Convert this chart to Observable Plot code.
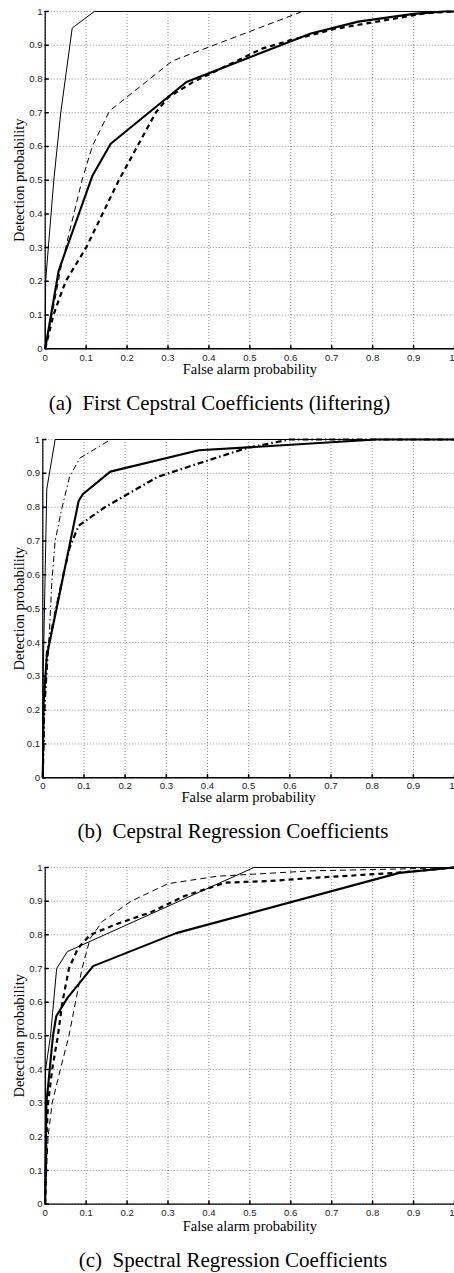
<!DOCTYPE html>
<html><head><meta charset="utf-8">
<script src="https://cdn.jsdelivr.net/npm/d3@7"></script>
<script src="https://cdn.jsdelivr.net/npm/@observablehq/plot@0.6"></script>
<style>
html,body{margin:0;padding:0;background:#fff;}
#wrap{position:relative;width:454px;height:1273px;overflow:hidden;background:#fff;}
#wrap svg{position:absolute;left:0;overflow:visible;}
</style></head><body><div id="wrap"></div>
<script>
// ---- tick values / labels ----
const tickValues = [0, 0.1, 0.2, 0.3, 0.4, 0.5, 0.6, 0.7, 0.8, 0.9, 1];
const tickLabels = ["0", "0.1", "0.2", "0.3", "0.4", "0.5", "0.6", "0.7", "0.8", "0.9", "1"];
const xLabel = "False alarm probability";
const yLabel = "Detection probability";
const captions = [
  "(a)\u2002First Cepstral Coefficients (liftering)",
  "(b)\u2002Cepstral Regression Coefficients",
  "(c)\u2002Spectral Regression Coefficients"
];

// ---- panel (a) ----
const aThinSolidX  = [0, 0.001, 0.021, 0.038, 0.066, 0.12, 1];
const aThinSolidY  = [0, 0.2, 0.5, 0.7, 0.951, 1, 1];
const aThickSolidX = [0, 0.033, 0.115, 0.16, 0.345, 0.649, 0.765, 0.9, 0.975, 1];
const aThickSolidY = [0, 0.232, 0.512, 0.608, 0.791, 0.935, 0.97, 0.993, 1, 1];
const aThinDashX   = [0, 0.015, 0.04, 0.09, 0.115, 0.157, 0.31, 0.628, 1];
const aThinDashY   = [0, 0.09, 0.25, 0.5, 0.6, 0.705, 0.853, 1, 1];
const aThickDashX  = [0, 0.02, 0.05, 0.1, 0.18, 0.27, 0.3, 0.36, 0.53, 0.6, 0.706, 0.82, 0.93, 1];
const aThickDashY  = [0, 0.1, 0.2, 0.3, 0.5, 0.7, 0.745, 0.79, 0.89, 0.915, 0.948, 0.972, 0.995, 1];

// ---- panel (b) ----
const bThinSolidX   = [0, 0.001, 0.004, 0.0097, 0.03, 1];
const bThinSolidY   = [0, 0.3, 0.5, 0.854, 1, 1];
const bThickSolidX  = [0, 0.002, 0.0097, 0.087, 0.097, 0.164, 0.379, 0.81, 1];
const bThickSolidY  = [0, 0.22, 0.36, 0.818, 0.838, 0.905, 0.968, 1, 1];
const bThinDashDotX = [0, 0.005, 0.014, 0.022, 0.03, 0.045, 0.065, 0.09, 0.165, 1];
const bThinDashDotY = [0, 0.2, 0.38, 0.58, 0.7, 0.79, 0.89, 0.945, 1, 1];
const bThickDashDotX = [0, 0.003, 0.01, 0.05, 0.065, 0.087, 0.151, 0.278, 0.375, 0.496, 0.6, 1];
const bThickDashDotY = [0, 0.2, 0.37, 0.6, 0.68, 0.745, 0.8, 0.889, 0.928, 0.975, 1, 1];

// ---- panel (c) ----
const cThinSolidX  = [0, 0.001, 0.013, 0.028, 0.054, 0.51, 1];
const cThinSolidY  = [0, 0.4, 0.5, 0.7, 0.75, 1, 1];
const cThickSolidX = [0, 0.003, 0.011, 0.019, 0.027, 0.054, 0.117, 0.32, 0.865, 1];
const cThickSolidY = [0, 0.3, 0.4, 0.5, 0.558, 0.612, 0.707, 0.805, 0.984, 1];
const cThinDashX   = [0, 0.007, 0.017, 0.037, 0.058, 0.074, 0.09, 0.11, 0.14, 0.21, 0.3, 0.42, 0.65, 0.88, 1];
const cThinDashY   = [0, 0.2, 0.3, 0.4, 0.5, 0.6, 0.7, 0.79, 0.84, 0.9, 0.952, 0.974, 0.99, 0.996, 1];
const cThickDashX  = [0, 0.003, 0.007, 0.017, 0.031, 0.042, 0.058, 0.08, 0.11, 0.17, 0.258, 0.34, 0.44, 0.55, 0.665, 0.856, 1];
const cThickDashY  = [0, 0.2, 0.3, 0.4, 0.5, 0.6, 0.7, 0.76, 0.8, 0.83, 0.867, 0.915, 0.955, 0.96, 0.97, 0.984, 1];

// ---- styles ----
const styles = {
  thinSolid:   {strokeWidth: 1,   dash: null},
  thickSolid:  {strokeWidth: 2.1, dash: null},
  thinDash:    {strokeWidth: 1,   dash: "6,4"},
  thickDash:   {strokeWidth: 2.2, dash: "5,4"},
  thinDashDot: {strokeWidth: 1,   dash: "6,3,1.5,3"},
  thickDashDot:{strokeWidth: 2.2, dash: "6,3,1.5,3"}
};

const zip = (xs, ys) => xs.map((x, i) => ({x, y: ys[i]}));

const panels = [
  {top: 0, y1: 11, y0: 348.3, x0: 44.7, xTickPad: 4.9, xLabDy: 25, capDy: 61, capX: 219,
   series: [["thinDash", aThinDashX, aThinDashY], ["thickDash", aThickDashX, aThickDashY],
            ["thinSolid", aThinSolidX, aThinSolidY], ["thickSolid", aThickSolidX, aThickSolidY]]},
  {top: 428, y1: 439, y0: 777.3, x0: 42.3, xTickPad: 4.2, xLabDy: 24.4, capDy: 60.7, capX: 232.5,
   series: [["thinDashDot", bThinDashDotX, bThinDashDotY], ["thickDashDot", bThickDashDotX, bThickDashDotY],
            ["thinSolid", bThinSolidX, bThinSolidY], ["thickSolid", bThickSolidX, bThickSolidY]]},
  {top: 855.7, y1: 866.7, y0: 1203.3, x0: 44.7, xTickPad: 5.5, xLabDy: 26.5, capDy: 62.7, capX: 232.5,
   series: [["thinDash", cThinDashX, cThinDashY], ["thickDash", cThickDashX, cThickDashY],
            ["thinSolid", cThinSolidX, cThinSolidY], ["thickSolid", cThickSolidX, cThickSolidY]]}
];

const tickShape = {draw(context, l) { context.moveTo(0, 0); context.lineTo(0, -l); }};
const fmt = d => tickLabels[tickValues.indexOf(d)];
const wrap = document.getElementById("wrap");
const sans = "Liberation Sans, Arial, sans-serif";
const serif = "Liberation Serif, Times New Roman, serif";

panels.forEach((p, i) => {
  const mb = 70;
  const H = (p.y0 - p.top) + mb;
  const frameCenter = (p.x0 + 454) / 2;
  const innerTicks = tickValues.slice(0, -1);
  const lastTick = tickValues.slice(-1);
  const marks = [
    Plot.gridX(tickValues, {stroke: "#888", strokeOpacity: 1, strokeWidth: 1, strokeDasharray: "1,2"}),
    Plot.gridY(tickValues, {stroke: "#888", strokeOpacity: 1, strokeWidth: 1, strokeDasharray: "1,2"}),
    Plot.axisX(innerTicks, {tickSize: 0, tickPadding: p.xTickPad, tickFormat: fmt, fontSize: 9.6,
      fontFamily: sans, fill: "#222", label: null}),
    Plot.axisX(lastTick, {tickSize: 0, tickPadding: p.xTickPad, tickFormat: fmt, fontSize: 9.6,
      fontFamily: sans, fill: "#222", label: null, textAnchor: "end", dx: 0}),
    Plot.axisY(tickValues, {tickSize: 0, tickPadding: 2.7, tickFormat: fmt, fontSize: 9.6,
      fontFamily: sans, fill: "#222", label: null}),
    Plot.vector(tickValues, {x: d => d, frameAnchor: "bottom", length: 3, anchor: "start", shape: tickShape, stroke: "#000"}),
    Plot.vector(tickValues, {y: d => d, frameAnchor: "left", rotate: 90, length: 3, anchor: "start", shape: tickShape, stroke: "#000"}),
    Plot.ruleX([0], {stroke: "#000", strokeWidth: 1.2}),
    Plot.ruleY([0], {stroke: "#000", strokeWidth: 1.4}),
    ...p.series.map(([key, xs, ys]) => Plot.line(zip(xs, ys), {
      x: "x", y: "y", stroke: "#000", strokeWidth: styles[key].strokeWidth,
      strokeDasharray: styles[key].dash, strokeLinejoin: "miter", strokeLinecap: "butt"
    })),
    Plot.text([xLabel], {frameAnchor: "bottom", textAnchor: "middle", dy: p.xLabDy, lineAnchor: "bottom", fontSize: 14.5,
      fontFamily: serif, fill: "#000"}),
    Plot.text([yLabel], {frameAnchor: "left", textAnchor: "middle", lineAnchor: "middle", dx: 18.5 - p.x0, rotate: -90, fontSize: 14.5,
      fontFamily: serif, fill: "#000"}),
    Plot.text([captions[i]], {frameAnchor: "bottom", textAnchor: "middle", dy: p.capDy, dx: p.capX - frameCenter, lineAnchor: "bottom",
      fontSize: 21, fontFamily: serif, fill: "#000"})
  ];
  const svg = Plot.plot({
    width: 454, height: H,
    marginLeft: p.x0, marginRight: 0, marginTop: p.y1 - p.top, marginBottom: mb,
    x: {domain: [0, 1]}, y: {domain: [0, 1]},
    style: {background: "transparent", overflow: "visible"},
    marks
  });
  svg.style.top = p.top + "px";
  wrap.appendChild(svg);
});
</script>
</body></html>
